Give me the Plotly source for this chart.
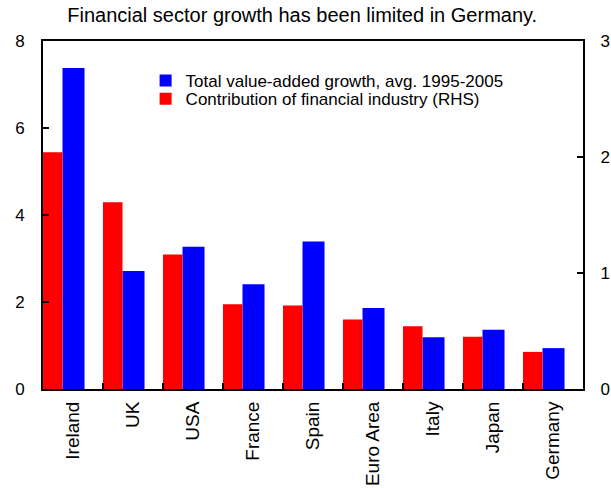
import plotly.graph_objects as go

countries = ["Ireland", "UK", "USA", "France", "Spain", "Euro Area", "Italy", "Japan", "Germany"]
total_growth = [7.38, 2.71, 3.27, 2.41, 3.39, 1.86, 1.19, 1.36, 0.94]
fin_contrib = [2.04, 1.61, 1.16, 0.73, 0.72, 0.60, 0.54, 0.45, 0.32]

FONT = "Liberation Sans, Arial, sans-serif"

fig = go.Figure()
fig.add_trace(go.Bar(
    x=countries, y=total_growth, name="Total value-added growth, avg. 1995-2005",
    marker=dict(color="#0000FF", line=dict(width=0)),
    offset=-0.175, width=0.367, yaxis="y", legend="legend",
))
fig.add_trace(go.Bar(
    x=countries, y=fin_contrib, name="Contribution of financial industry (RHS)",
    marker=dict(color="#FF0000", line=dict(width=0)),
    offset=-0.5, width=0.325, yaxis="y2", legend="legend2",
))

leg_common = dict(xanchor="left", yanchor="middle", font=dict(size=17, family=FONT),
                  bgcolor="rgba(0,0,0,0)", itemwidth=30)

fig.update_layout(
    width=611, height=488,
    margin=dict(l=43, r=28, t=41, b=99, autoexpand=False),
    paper_bgcolor="white", plot_bgcolor="white",
    barmode="overlay",
    font=dict(family=FONT, size=17, color="black"),
    title=dict(text="Financial sector growth has been limited in Germany.",
               x=0.48, xref="paper", xanchor="center",
               y=0.969, yref="container", yanchor="middle",
               font=dict(size=20, family=FONT, color="black")),
    showlegend=True,
    legend=dict(x=0.19, y=0.885, **leg_common),
    legend2=dict(x=0.19, y=0.833, **leg_common),
    xaxis=dict(
        type="category", range=[-0.5, 8.5], automargin=False,
        showline=True, linecolor="black", linewidth=2, mirror=True, layer="above traces",
        ticks="inside", tickson="boundaries", ticklen=6, tickwidth=1.5, tickcolor="black",
        tickangle=-90, tickfont=dict(size=19), showgrid=False,
        ticklabelstandoff=3,
    ),
    yaxis=dict(
        range=[0, 8], dtick=2, showline=True, linecolor="black", linewidth=2,
        ticks="inside", ticklen=6, tickwidth=1.5, tickcolor="black", automargin=False,
        showgrid=False, zeroline=False, tickfont=dict(size=17), layer="above traces",
        ticklabelstandoff=13,
    ),
    yaxis2=dict(
        range=[0, 3], dtick=1, overlaying="y", side="right", automargin=False,
        showline=True, linecolor="black", linewidth=2, layer="above traces",
        ticks="inside", ticklen=6, tickwidth=1.5, tickcolor="black",
        showgrid=False, zeroline=False, tickfont=dict(size=17),
        ticklabelstandoff=12,
    ),
    annotations=[dict(
        text="Sources: BEC Europe (Oct 2006)", xref="paper", yref="paper",
        x=-0.03, y=-0.283, xanchor="left", yanchor="top", showarrow=False,
        font=dict(size=19, family=FONT),
    )],
)

fig.write_html("out.html", config={"displayModeBar": False},
               post_script="document.body.style.margin='0';")
